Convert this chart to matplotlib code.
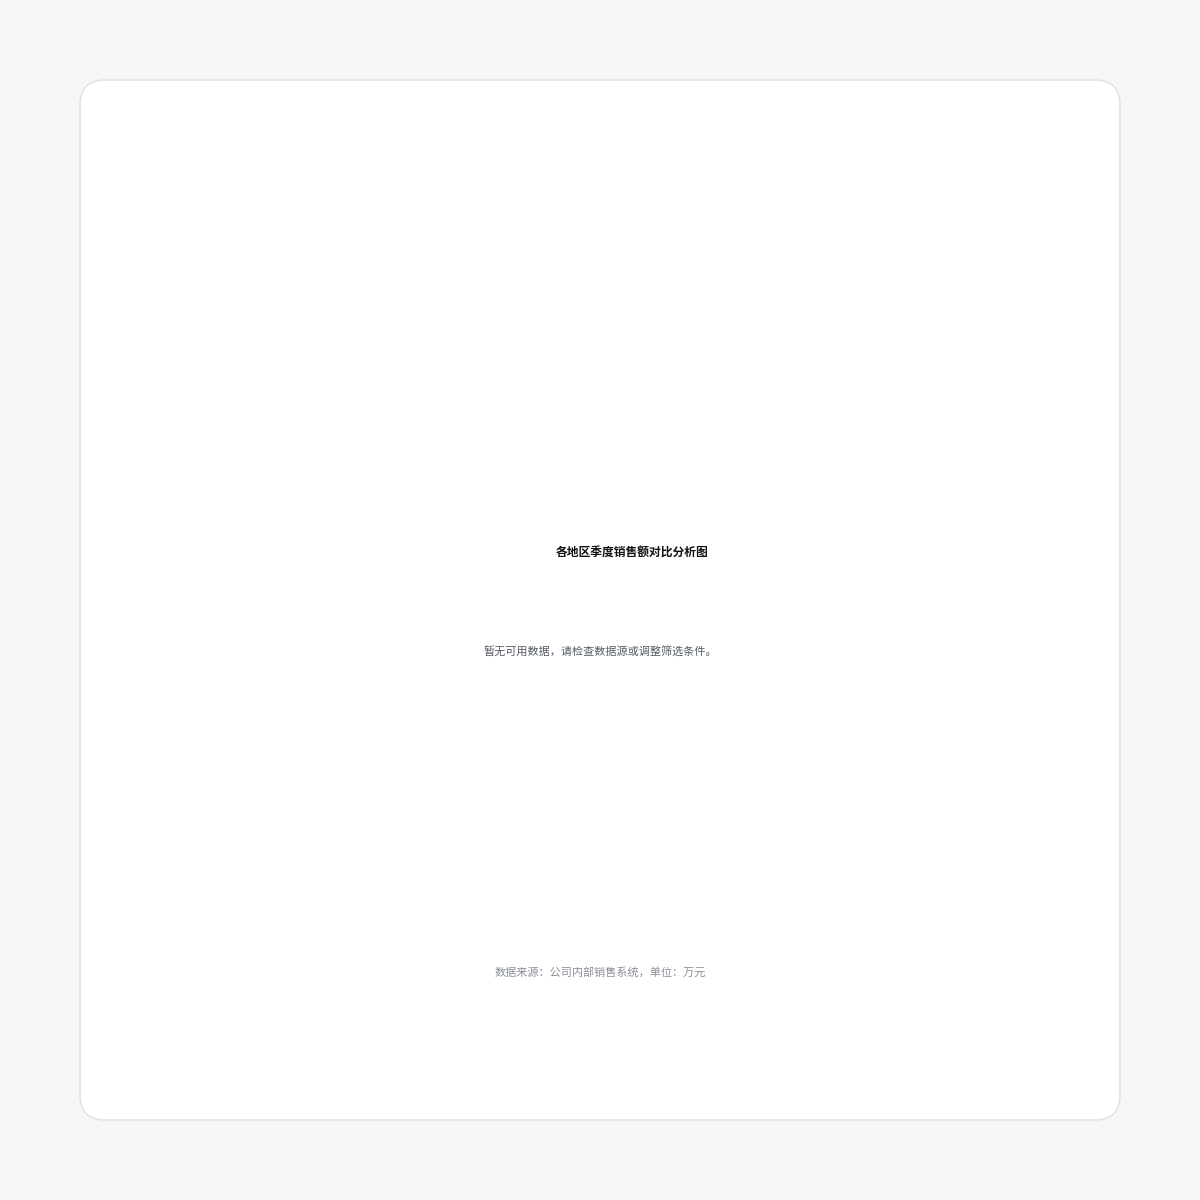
import matplotlib.pyplot as plt
from matplotlib.patches import FancyBboxPatch

plt.rcParams['font.family'] = ['Noto Sans CJK SC', 'DejaVu Sans']

# texts of the (empty) chart
title = '各地区季度销售额对比分析图'
message = '暂无可用数据，请检查数据源或调整筛选条件。'
footer = '数据来源：公司内部销售系统，单位：万元'

fig = plt.figure(figsize=(12, 12), dpi=100)
fig.patch.set_facecolor('#f7f6f4')

# white card with rounded corners
card = FancyBboxPatch((80 / 1200, 80 / 1200), 1040 / 1200, 1040 / 1200,
                      boxstyle='round,pad=0,rounding_size=0.021',
                      transform=fig.transFigure, facecolor='white',
                      edgecolor='#e5e3df', linewidth=1.2)
fig.patches.append(card)

fig.text(632 / 1200, 1 - 552 / 1200, title, ha='center', va='center',
         fontsize=8.5, fontweight='bold', color='#111111')
fig.text(0.5, 1 - 652 / 1200, message, ha='center', va='center',
         fontsize=8, color='#555b66')
fig.text(0.5, 1 - 972 / 1200, footer, ha='center', va='center',
         fontsize=8, color='#8b8f98')

fig.savefig('out.png', dpi=100, facecolor=fig.get_facecolor())
